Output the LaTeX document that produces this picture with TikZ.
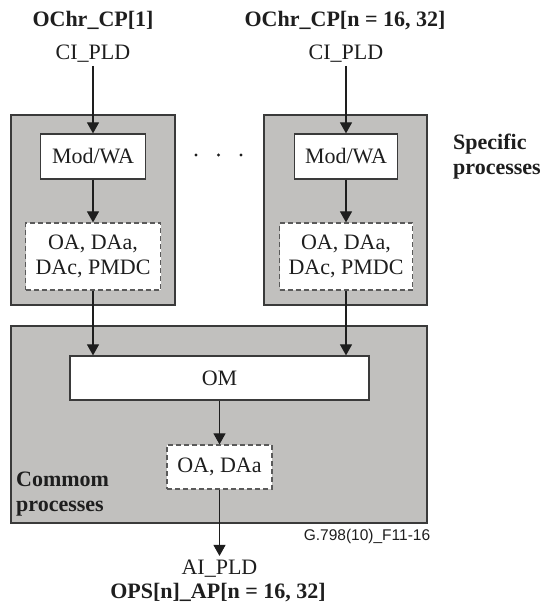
\documentclass[tikz,border=0pt]{standalone}
\usepackage{fontspec}
\setmainfont{Liberation Serif}
\newfontfamily\figfont{Liberation Sans}
\usetikzlibrary{arrows.meta}
\definecolor{ink}{HTML}{1E1E1E}
\definecolor{panel}{HTML}{C1C0BE}
\definecolor{edge}{HTML}{3A3A3A}
\definecolor{dashgray}{HTML}{5A5A5A}

\begin{document}
\begin{tikzpicture}[x=1pt,y=-1pt,font=\fontsize{22}{25}\selectfont,text=ink,
  >={Triangle[width=12pt,length=11pt]},
  panelbox/.style={draw=edge,fill=panel,line width=1.4pt,inner sep=0pt},
  fnbox/.style={draw=edge,fill=white,line width=1.2pt,align=center},
  dashbox/.style={fnbox,draw=dashgray,dash pattern=on 5pt off 3pt},
  conn/.style={draw=ink,line width=1.1pt,->},
  heading/.style={font=\fontsize{22}{25}\selectfont\bfseries}]
  \useasboundingbox (0,0) rectangle (549,612);

  \node[panelbox,minimum width=164pt,minimum height=190pt] (spec1) at (93,210) {};
  \node[panelbox,minimum width=163pt,minimum height=190pt] (spec2) at (345.5,210) {};
  \node[panelbox,minimum width=416pt,minimum height=197pt] (common) at (219,424.5) {};

  \node[heading,anchor=base] (ochr1) at (93,27) {OChr\_CP[1]};
  \node[heading,anchor=base] (ochr2) at (345,27) {OChr\_CP[n = 16, 32]};
  \node[anchor=base] (ci1) at (93,59.5) {CI\_PLD};
  \node[anchor=base] (ci2) at (346,59.5) {CI\_PLD};

  \node[fnbox,minimum width=105pt,minimum height=45pt] (mod1) at (93,156.5) {Mod/WA};
  \node[fnbox,minimum width=103pt,minimum height=45pt] (mod2) at (346,156.5) {Mod/WA};
  \node[dashbox,minimum width=135pt,minimum height=67pt] (mon1) at (93,256.5)
    {OA, DAa,\\DAc, PMDC};
  \node[dashbox,minimum width=133pt,minimum height=67pt] (mon2) at (346,256.5)
    {OA, DAa,\\DAc, PMDC};
  \foreach \dx in {196,218.5,241}
    \fill[ink] (\dx,155) circle (1.6);

  \node[fnbox,minimum width=299pt,minimum height=44pt] (om) at (219.5,378) {OM};
  \node[dashbox,minimum width=105pt,minimum height=44pt] (amp) at (219.5,467) {OA, DAa};

  \node[heading,anchor=west,align=left,inner sep=0pt] (spectxt) at (453,157)
    {Specific\\processes};
  \node[heading,anchor=west,align=left,inner sep=0pt] (comtxt) at (16,494)
    {Commom\\processes};

  \node[anchor=base] (ai) at (219.5,574) {AI\_PLD};
  \node[heading,anchor=base] (ops) at (218,598) {OPS[n]\_AP[n = 16, 32]};
  \node[font=\figfont\fontsize{15.5}{18}\selectfont] (figid) at (367,536)
    {G.798(10)\_F11-16};

  \draw[conn] (ci1) -- (mod1);
  \draw[conn] (ci2) -- (mod2);
  \draw[conn] (mod1) -- (mon1);
  \draw[conn] (mod2) -- (mon2);
  \draw[conn] (mon1.south) -- (mon1.south |- om.north);
  \draw[conn] (mon2.south) -- (mon2.south |- om.north);
  \draw[conn] (om) -- (amp);
  \draw[conn] (amp) -- (ai);
\end{tikzpicture}
\end{document}
